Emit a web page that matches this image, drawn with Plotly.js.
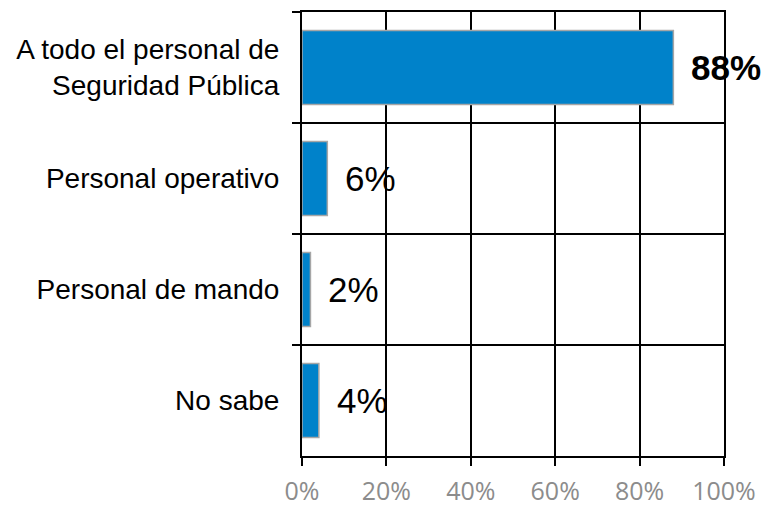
<!DOCTYPE html>
<html>
<head>
<meta charset="utf-8">
<script src="https://cdn.plot.ly/plotly-3.0.1.min.js"></script>
<style>html,body{margin:0;padding:0;background:#fff;}#chart{width:763px;height:508px;}</style>
</head>
<body>
<div id="chart"></div>
<script>
const categories = ["A todo el personal de<br>Seguridad Pública", "Personal operativo", "Personal de mando", "No sabe"];
const values = [88, 6, 2, 4];
const valueLabels = ["88%", "6%", "2%", "4%"];
const labelBold = [true, false, false, false];
const xTickVals = [0, 20, 40, 60, 80, 100];
const xTickText = ["0%", "20%", "40%", "60%", "80%", "100%"];

const trace = {
  type: 'bar',
  orientation: 'h',
  x: values,
  y: categories,
  marker: {color: '#0082CA', line: {color: '#A6A6A6', width: 1.5}},
  hoverinfo: 'none'
};

const annotations = values.map((v, i) => ({
  x: v, y: categories[i], xref: 'x', yref: 'y',
  text: labelBold[i] ? '<b>' + valueLabels[i] + '</b>' : valueLabels[i],
  showarrow: false, xanchor: 'left', yanchor: 'middle', xshift: 16,
  font: {family: 'Liberation Sans, Arial, sans-serif', size: 35, color: '#000'}
}));

const layout = {
  width: 763, height: 508,
  margin: {l: 302, r: 39, t: 12, b: 52},
  paper_bgcolor: '#fff', plot_bgcolor: '#fff',
  showlegend: false,
  bargap: 0.333,
  xaxis: {
    range: [0, 100], tickmode: 'array', tickvals: xTickVals, ticktext: xTickText,
    showgrid: true, gridcolor: '#000', gridwidth: 2,
    zeroline: false,
    showline: true, linecolor: '#000', linewidth: 2, mirror: true,
    ticks: 'outside', ticklen: 8, tickwidth: 2, tickcolor: '#000',
    ticklabelstandoff: 4,
    tickfont: {family: 'Open Sans, sans-serif', size: 25, color: '#8C8C8C'},
    fixedrange: true
  },
  yaxis: {
    type: 'category', autorange: 'reversed',
    tickson: 'boundaries',
    showgrid: true, gridcolor: '#000', gridwidth: 2,
    showline: true, linecolor: '#000', linewidth: 2, mirror: true,
    ticks: 'outside', ticklen: 8, tickwidth: 2, tickcolor: '#000',
    ticklabelstandoff: 15,
    tickfont: {family: 'Liberation Sans, Arial, sans-serif', size: 28, color: '#000'},
    fixedrange: true
  },
  annotations: annotations
};

Plotly.newPlot('chart', [trace], layout, {displayModeBar: false, staticPlot: true});
</script>
</body>
</html>
